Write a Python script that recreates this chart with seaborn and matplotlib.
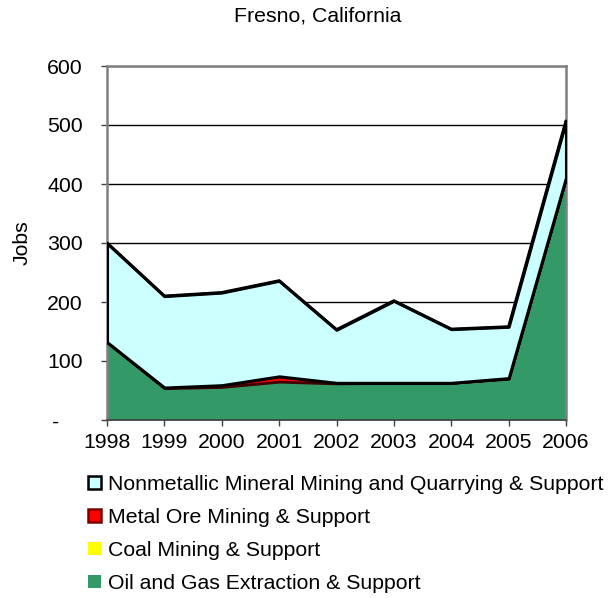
import matplotlib.pyplot as plt
import seaborn as sns
import pandas as pd
import numpy as np
from matplotlib.patches import Patch

# values (jobs)
years = [1998, 1999, 2000, 2001, 2002, 2003, 2004, 2005, 2006]
oil_gas = [132, 54, 56, 65, 62, 63, 63, 70, 410]
coal = [0, 0, 0, 0, 0, 0, 0, 0, 0]
metal_ore = [0, 1, 3, 9, 1, 0, 0, 1, 1]
nonmetallic = [168, 155, 157, 162, 90, 139, 91, 87, 96]

series_names = ["Nonmetallic Mineral Mining and Quarrying & Support",
                "Metal Ore Mining & Support",
                "Coal Mining & Support",
                "Oil and Gas Extraction & Support"]
colors = {"nonmetal": "#CCFFFF", "metal": "#FF0000", "coal": "#FFFF00", "oil": "#339966"}

df = pd.DataFrame({"Year": years, "Oil": oil_gas, "Coal": coal,
                   "Metal": metal_ore, "Nonmetal": nonmetallic})
df["c_oil"] = df["Oil"]
df["c_coal"] = df["c_oil"] + df["Coal"]
df["c_metal"] = df["c_coal"] + df["Metal"]
df["c_nonmetal"] = df["c_metal"] + df["Nonmetal"]

sns.set_style("white")
plt.rcParams["font.family"] = ["Liberation Sans", "DejaVu Sans"]
plt.rcParams["text.color"] = "black"
plt.rcParams["axes.labelcolor"] = "black"
plt.rcParams["xtick.color"] = "black"
plt.rcParams["ytick.color"] = "black"
fs = 15.3

fig = plt.figure(figsize=(6.08, 5.98), dpi=100)
ax = fig.add_axes([107 / 608, 178 / 598, 459 / 608, 354 / 598])

# gridlines behind areas
ax.set_axisbelow(True)
ax.yaxis.grid(True, color="black", linewidth=1.0)
ax.xaxis.grid(False)

ax.fill_between(df["Year"], 0, df["c_oil"], color=colors["oil"], linewidth=0, zorder=2)
ax.fill_between(df["Year"], df["c_oil"], df["c_coal"], color=colors["coal"], linewidth=0, zorder=3)
ax.fill_between(df["Year"], df["c_coal"], df["c_metal"], facecolor=colors["metal"],
                edgecolor="#400000", linewidth=2, zorder=4)
ax.fill_between(df["Year"], df["c_metal"], df["c_nonmetal"], facecolor=colors["nonmetal"],
                edgecolor="black", linewidth=2.2, zorder=5)
sns.lineplot(x="Year", y="c_nonmetal", data=df, ax=ax, color="black", linewidth=2.2, zorder=6)

ax.set_xlim(1998, 2006)
ax.set_ylim(0, 600)
ax.set_xticks(years)
ax.set_xticklabels([str(y) for y in years])
ax.set_yticks(np.arange(0, 601, 100))
ax.set_yticklabels(["-    "] + [str(v) for v in range(100, 601, 100)])

ax.tick_params(axis="y", direction="out", length=4.5, width=1, color="#404040",
               pad=13, labelsize=fs, left=True)
ax.tick_params(axis="x", direction="out", length=4.5, width=1, color="#404040",
               pad=5, labelsize=fs, bottom=True)

for side in ["top", "right", "left"]:
    ax.spines[side].set_color("#808080")
    ax.spines[side].set_linewidth(1.8)
ax.spines["bottom"].set_color("#404040")
ax.spines["bottom"].set_linewidth(1.2)

ax.set_xlabel("")
ax.set_ylabel("Jobs", fontsize=fs)
ax.yaxis.set_label_coords(-0.165, 0.5)

fig.text(318 / 608, 1 - 16 / 598, "Fresno, California", ha="center", va="center", fontsize=fs)

handles = [Patch(facecolor=colors["nonmetal"], edgecolor="black", linewidth=1.8),
           Patch(facecolor=colors["metal"], edgecolor="#800000", linewidth=1.8),
           Patch(facecolor=colors["coal"], edgecolor="none"),
           Patch(facecolor=colors["oil"], edgecolor="none")]
fig.legend(handles, series_names, loc="upper left", bbox_to_anchor=(88 / 608, 1 - 475 / 598),
           frameon=False, fontsize=fs, handlelength=0.62, handleheight=0.62,
           handletextpad=0.3, labelspacing=0.66, borderpad=0, borderaxespad=0)

plt.savefig("out.png", dpi=100)
